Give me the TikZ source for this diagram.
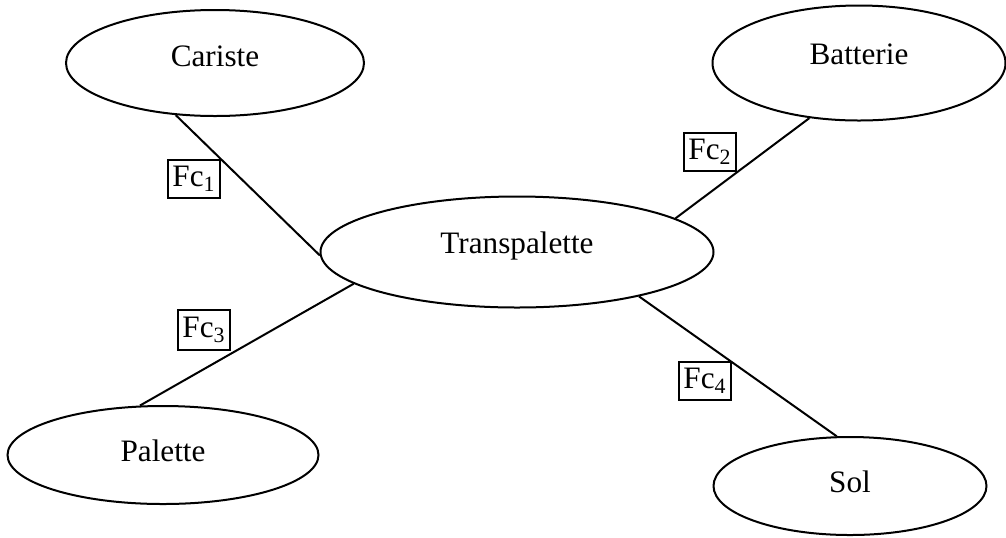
\documentclass[tikz,border=0pt]{standalone}
\usepackage{fontspec}
\setmainfont{Liberation Serif}
\usetikzlibrary{shapes.geometric}

\begin{document}
\begin{tikzpicture}[x=0.5pt, y=-0.5pt, line width=1pt,
  font=\fontsize{15.6}{18}\selectfont,
  bloc/.style={draw, ellipse, inner sep=0pt, text height=12pt, text depth=10.4pt},
  fc/.style={draw, inner xsep=2pt, inner ysep=3.5pt}]
\useasboundingbox (0,0) rectangle (1006,537);
% les elements exterieurs
\node[bloc, text depth=8.4pt, minimum width=149pt, minimum height=53pt] (cariste) at (215,63) {Cariste};
\node[bloc, minimum width=146.5pt, minimum height=57.5pt] (batterie) at (859,63) {Batterie};
\node[bloc, minimum width=196.5pt, minimum height=55.5pt] (transp) at (517,252) {Transpalette};
\node[bloc, text depth=5.4pt, minimum width=155.5pt, minimum height=49pt] (palette) at (163,455) {Palette};
\node[bloc, text depth=5.4pt, minimum width=136.5pt, minimum height=49pt] (sol) at (850,486) {Sol};
% fonctions contraintes
\node[fc] (fc1) at (194,179) {Fc\textsubscript{1}};
\node[fc] (fc2) at (710,152) {Fc\textsubscript{2}};
\node[fc] (fc3) at (204,330) {Fc\textsubscript{3}};
\node[fc] (fc4) at (705,381) {Fc\textsubscript{4}};
\draw (cariste.233) -- (transp.181);
\draw (batterie.228) -- (transp.12);
\draw (palette.115) -- (transp.191);
\draw (sol.105) -- (transp.340);
\end{tikzpicture}
\end{document}
